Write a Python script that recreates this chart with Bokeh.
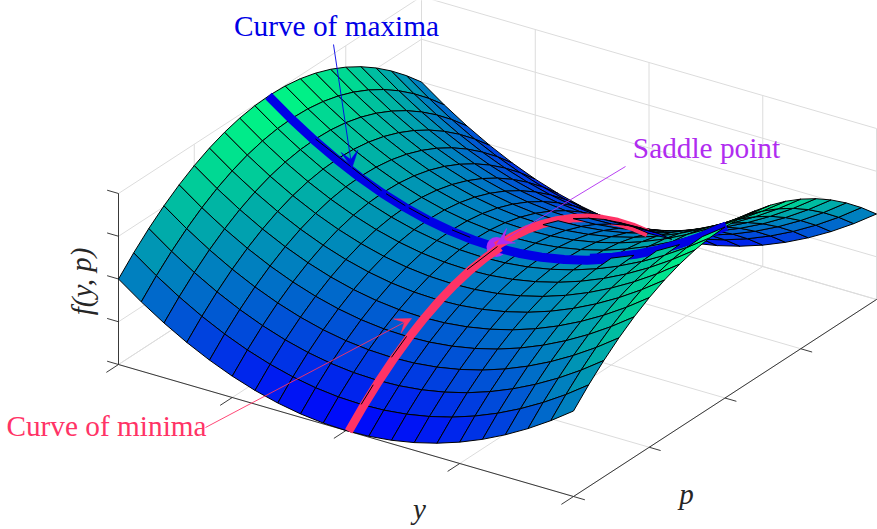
from bokeh.plotting import figure
from bokeh.models import Arrow, VeeHead, Range1d
from bokeh.core.properties import value
from bokeh.embed import file_html
from bokeh.resources import INLINE

# Values: the curve of maxima f(y, 0) and curve of minima f(0, p).
y_values = [-1.0,-0.9,-0.8,-0.7,-0.6,-0.5,-0.4,-0.3,-0.2,-0.1,0.0,0.1,0.2,0.3,0.4,0.5,0.6,0.7,0.8,0.9,1.0]
p_values = [-1.0,-0.9,-0.8,-0.7,-0.6,-0.5,-0.4,-0.3,-0.2,-0.1,0.0,0.1,0.2,0.3,0.4,0.5,0.6,0.7,0.8,0.9,1.0]
maxima_z = [1.0,0.81,0.64,0.49,0.36,0.25,0.16,0.09,0.04,0.01,0.0,0.01,0.04,0.09,0.16,0.25,0.36,0.49,0.64,0.81,1.0]
minima_z = [-1.0,-0.81,-0.64,-0.49,-0.36,-0.25,-0.16,-0.09,-0.04,-0.01,0.0,-0.01,-0.04,-0.09,-0.16,-0.25,-0.36,-0.49,-0.64,-0.81,-1.0]
y_ticks = [-1.0,-0.5,0.0,0.5,1.0]
p_ticks = [-1.0,-0.5,0.0,0.5,1.0]
z_ticks = [-1.0,-0.5,0.0,0.5,1.0]
saddle = (0.0, 0.0, 0.0)

# surface cells whose painting order falls after the curves
pink_over_j = [13,15,16,17,18,19]
blue_over_i = [15,17,19]
# stretches of the mesh that stay visible on the curves
blue_edges = [(-0.8,-0.51),(-0.49,-0.405),(-0.39,-0.3),(-0.2,-0.12)]
pink_edges = [(-0.9,-0.82),(-0.7,-0.6),(-0.2,0.0)]

BLUE = "#0000E6"; PINK = "#FF3366"; PURPLE = "#B02CF0"; AXIS = "#262626"; GRID = "#DCDCDC"
SERIF = "Liberation Serif"

def proj(y, p, z):
    return 497 + 227.5*y + 151.5*p, 246 + 66*y - 98.5*p - 85.5*z

def depth(y, p, z):
    return 136.6*y - 204.8*p + 41.3*z

def winter(t):
    return "#%02x%02x%02x" % (0, round(255*t), round(255*(1-t/2)))

fig = figure(width=877, height=529, x_range=Range1d(0,877), y_range=Range1d(529,0),
             output_backend="svg", toolbar_location=None, min_border=0,
             outline_line_color=None)
fig.axis.visible = False
fig.grid.visible = False

def segs(lst, color, width, cap="butt"):
    xs, ys = [], []
    for a, b in lst:
        ax, ay = proj(*a); bx, by = proj(*b)
        xs.append([ax, bx]); ys.append([ay, by])
    fig.multi_line(xs, ys, line_color=color, line_width=width, line_cap=cap)

# grid
g = []
for t in y_ticks:
    g.append(((t,-1,-1),(t,1,-1))); g.append(((t,1,-1),(t,1,1)))
for t in p_ticks:
    g.append(((-1,t,-1),(1,t,-1))); g.append(((-1,t,-1),(-1,t,1)))
for t in z_ticks:
    g.append(((-1,-1,t),(-1,1,t))); g.append(((-1,1,t),(1,1,t)))
segs(g, GRID, 1.0)

# axes and ticks
a = [((-1,-1,-1),(1,-1,-1)), ((1,-1,-1),(1,1,-1)), ((-1,-1,-1),(-1,-1,1))]
a += [((t,-1,-1),(t,-1.08,-1)) for t in y_ticks]
a += [((1,t,-1),(1.05,t,-1)) for t in p_ticks]
a += [((-1,-1,t),(-1.05,-1,t)) for t in z_ticks]
segs(a, AXIS, 0.9)

def cell(i, j):
    pts = [(i,j),(i+1,j),(i+1,j+1),(i,j+1)]
    P = [(y_values[u], p_values[v], maxima_z[u]+minima_z[v]) for u, v in pts]
    xy = [proj(*q) for q in P]
    zm = sum(q[2] for q in P)/4
    d = sum(depth(*q) for q in P)/4
    return [q[0] for q in xy], [q[1] for q in xy], winter((zm+1)/2), d

n = len(y_values)-1
cells = sorted((cell(i,j) for i in range(n) for j in range(n)), key=lambda c: c[3])
fig.patches([c[0] for c in cells], [c[1] for c in cells], fill_color=[c[2] for c in cells],
            line_color="black", line_width=1.0)

def curve_blue(i0, i1, shift):
    pts = [proj(y_values[i], shift, maxima_z[i]) for i in range(i0, i1+1)]
    fig.line([q[0] for q in pts],[q[1] for q in pts], line_color=BLUE, line_width=9, line_cap="butt", line_join="round")
def curve_pink(j0, j1, shift):
    pts = [proj(shift, p_values[j], minima_z[j]) for j in range(j0, j1+1)]
    fig.line([q[0] for q in pts],[q[1] for q in pts], line_color=PINK, line_width=8.5, line_cap="butt", line_join="round")

curve_blue(0, 10, -0.01)
sx, sy = proj(*saddle)
fig.scatter([sx-1],[sy+0.5], size=20, fill_color=PURPLE, line_color=None)
curve_blue(10, 15, -0.01)
curve_blue(14, n, 0.01)
curve_pink(0, 10, 0.012)
curve_pink(10, n, -0.006)

# cells that cover part of the curves
over = [cell(10,j) for j in pink_over_j] + [cell(i,9) for i in blue_over_i]
over.sort(key=lambda c: c[3])
fig.patches([c[0] for c in over], [c[1] for c in over], fill_color=[c[2] for c in over],
            line_color="black", line_width=1.0)

# visible mesh lines
ed = [((u,0.0,u*u),(v,0.0,v*v)) for u, v in blue_edges]
ed += [((0.0,u,-u*u),(0.0,v,-v*v)) for u, v in pink_edges]
segs(ed, "black", 1.0)

# annotations
def note(text, x, y, color):
    fig.text([x],[y],text=[text], text_color=color, text_font=value(SERIF), text_font_size="29.3px",
             text_align="center", text_baseline="middle")
def arrow(x0,y0,x1,y1,color,size):
    fig.add_layout(Arrow(end=VeeHead(size=size, fill_color=color, line_color=color, line_width=0.5),
                         x_start=x0,y_start=y0,x_end=x1,y_end=y1,line_color=color,line_width=0.9))
note("Curve of maxima", 336, 25.5, BLUE)
note("Saddle point", 706, 147.5, PURPLE)
note("Curve of minima", 106, 425.5, PINK)
arrow(333,44,351.5,167.5,BLUE,17)
arrow(625,166,496,244,PURPLE,17)
arrow(205,427,411,318,PINK,16)

def label(t, x, y, angle=0):
    fig.text([x],[y],text=[t], text_color="#262626", text_font=value(SERIF), text_font_size="29px",
             text_font_style="italic", text_align="center", text_baseline="middle", angle=angle)
label("y", 419, 508)
label("p", 686, 493)
label("f(y, p)", 81, 281, 1.5708)

open("out.html","w").write(file_html(fig, INLINE))
